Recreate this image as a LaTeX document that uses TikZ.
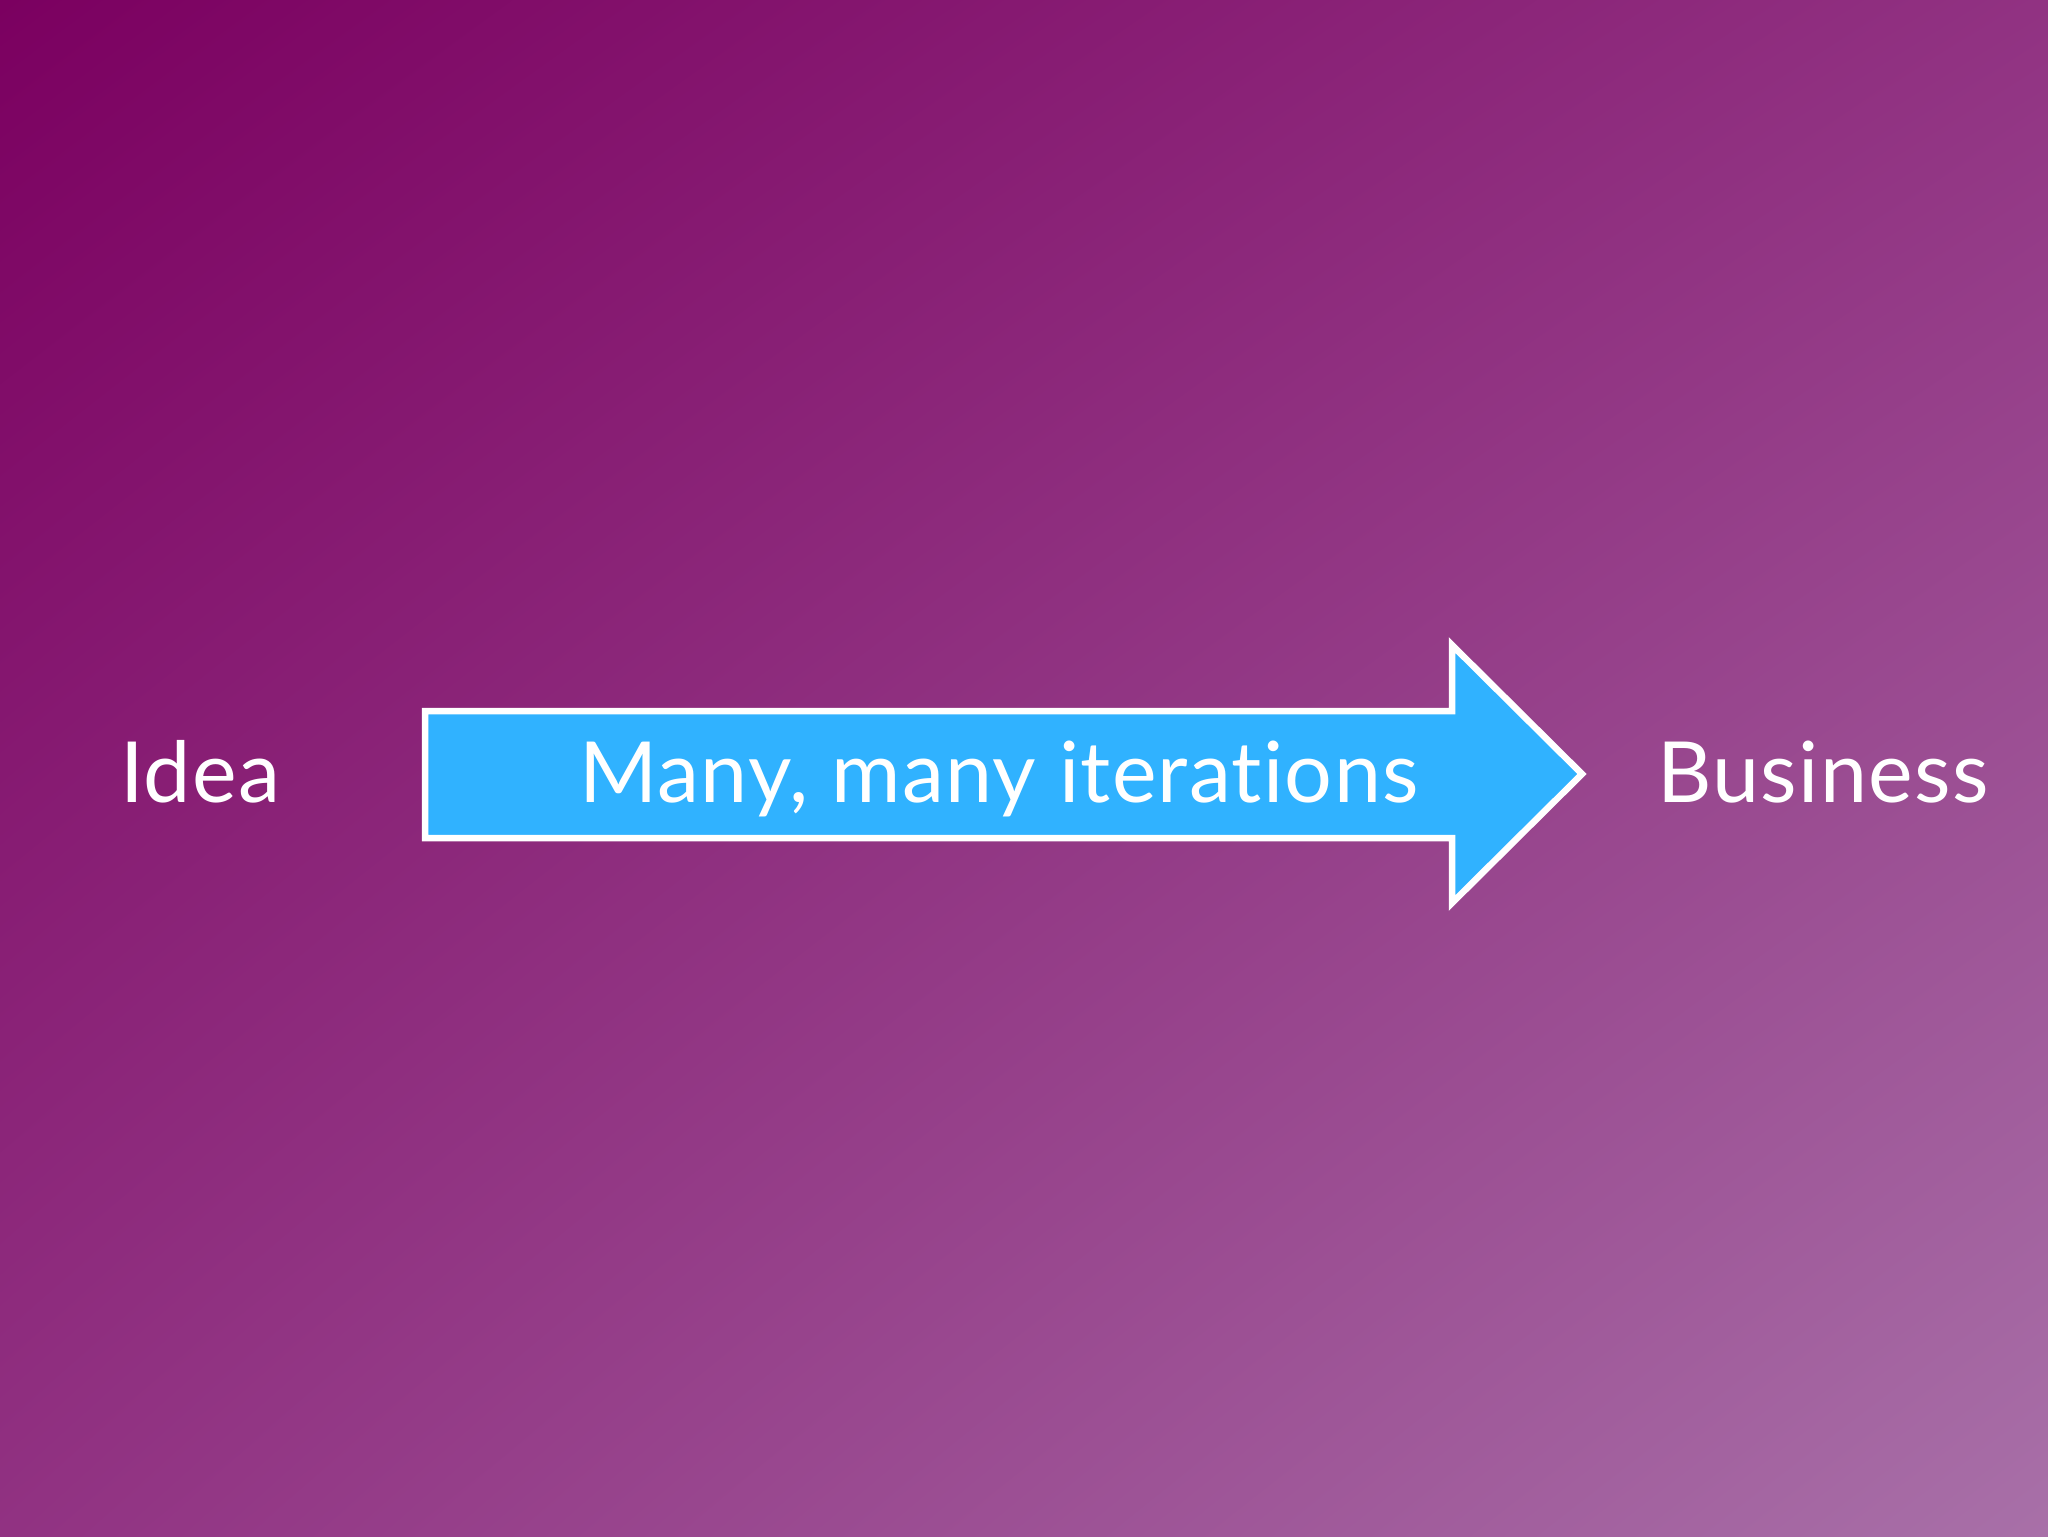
\documentclass[tikz,border=0pt]{standalone}
\usepackage{fontspec}
\setmainfont{Lato}[Ligatures=NoCommon, LetterSpace=1.5]
\usetikzlibrary{shadings}

\begin{document}
\begin{tikzpicture}[
  x=0.1mm, y=-0.1mm,
  label/.style={text=white, font=\fontsize{24}{29}\selectfont, anchor=base, inner sep=0pt},
]
\definecolor{bgtl}{RGB}{123,0,96}
\definecolor{bgmid}{RGB}{145,50,130}
\definecolor{bgbr}{RGB}{168,112,168}
\definecolor{arrowblue}{RGB}{48,178,255}

\useasboundingbox (0,0) rectangle (2048,1536);
\shade [upper left=bgtl, upper right=bgmid, lower left=bgmid, lower right=bgbr] (0,0) rectangle (2048,1536);

\draw [fill=arrowblue, draw=white, line width=0.65mm, line join=miter]
  (425,711) -- (1452,711) -- (1452,645) -- (1582,774) -- (1452,903) -- (1452,838) -- (425,838) -- cycle;

\node [label] (idea) at (200,802) {Idea};
\node [label] (iter) at (999,802) {Many, many iterations};
\node [label] (business) at (1823,802) {Business};

\end{tikzpicture}
\end{document}
